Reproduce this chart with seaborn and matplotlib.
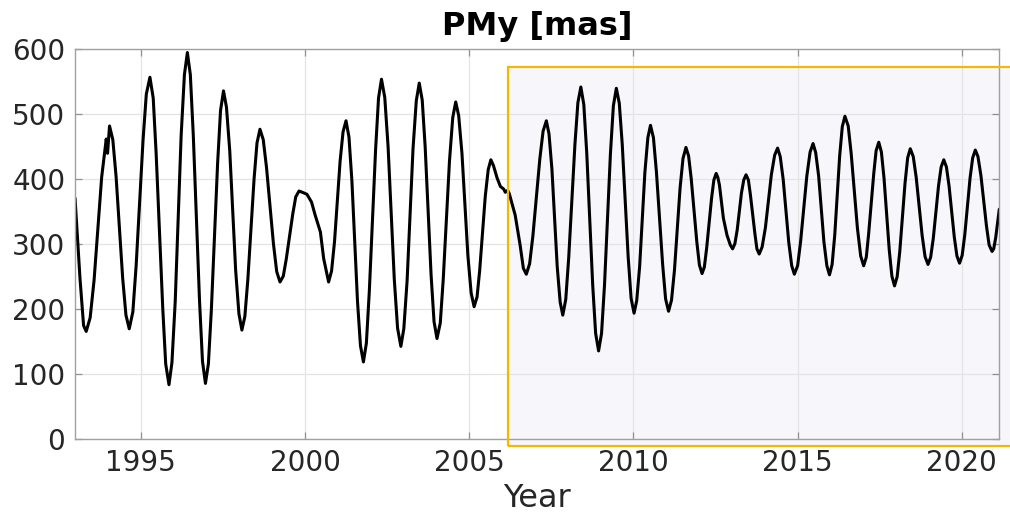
import pandas as pd
import matplotlib
matplotlib.use('Agg')
from matplotlib import pyplot as plt
from matplotlib.patches import Rectangle
import seaborn as sns

# Polar motion y component [mas]
years = [1993.00, 1993.15, 1993.26, 1993.34, 1993.46, 1993.58, 1993.81, 1993.95,
         1993.99, 1994.05, 1994.15, 1994.25, 1994.45, 1994.55, 1994.65, 1994.76,
         1994.86, 1995.07, 1995.17, 1995.28, 1995.38, 1995.47, 1995.67, 1995.76,
         1995.86, 1995.95, 1996.05, 1996.23, 1996.33, 1996.42, 1996.51, 1996.60,
         1996.79, 1996.88, 1996.97, 1997.06, 1997.15, 1997.34, 1997.43, 1997.52,
         1997.61, 1997.71, 1997.89, 1997.99, 1998.08, 1998.17, 1998.26, 1998.45,
         1998.54, 1998.63, 1998.73, 1998.83, 1999.04, 1999.14, 1999.24, 1999.34,
         1999.43, 1999.63, 1999.72, 1999.82, 1999.92, 2000.06, 2000.20, 2000.31,
         2000.47, 2000.57, 2000.72, 2000.81, 2000.90, 2001.07, 2001.16, 2001.25,
         2001.34, 2001.43, 2001.60, 2001.69, 2001.78, 2001.87, 2001.96, 2002.15,
         2002.24, 2002.33, 2002.43, 2002.53, 2002.72, 2002.82, 2002.92, 2003.01,
         2003.11, 2003.29, 2003.39, 2003.48, 2003.57, 2003.66, 2003.84, 2003.93,
         2004.02, 2004.12, 2004.21, 2004.40, 2004.50, 2004.59, 2004.68, 2004.78,
         2004.96, 2005.06, 2005.15, 2005.24, 2005.32, 2005.49, 2005.58, 2005.66,
         2005.74, 2005.85, 2005.95, 2006.05, 2006.10, 2006.17, 2006.22, 2006.40,
         2006.55, 2006.65, 2006.74, 2006.84, 2006.94, 2007.15, 2007.25, 2007.35,
         2007.43, 2007.52, 2007.68, 2007.77, 2007.85, 2007.94, 2008.03, 2008.22,
         2008.31, 2008.40, 2008.49, 2008.58, 2008.76, 2008.85, 2008.94, 2009.03,
         2009.12, 2009.30, 2009.39, 2009.48, 2009.57, 2009.66, 2009.84, 2009.93,
         2010.02, 2010.10, 2010.19, 2010.35, 2010.44, 2010.52, 2010.61, 2010.70,
         2010.89, 2010.98, 2011.07, 2011.16, 2011.25, 2011.42, 2011.51, 2011.60,
         2011.68, 2011.76, 2011.93, 2012.01, 2012.09, 2012.16, 2012.23, 2012.38,
         2012.45, 2012.52, 2012.57, 2012.62, 2012.74, 2012.85, 2012.95, 2013.02,
         2013.09, 2013.16, 2013.29, 2013.36, 2013.43, 2013.50, 2013.56, 2013.70,
         2013.76, 2013.83, 2013.92, 2014.02, 2014.20, 2014.30, 2014.39, 2014.47,
         2014.56, 2014.73, 2014.82, 2014.90, 2015.00, 2015.09, 2015.28, 2015.38,
         2015.47, 2015.55, 2015.64, 2015.80, 2015.89, 2015.97, 2016.05, 2016.13,
         2016.28, 2016.36, 2016.44, 2016.54, 2016.63, 2016.82, 2016.92, 2017.01,
         2017.09, 2017.16, 2017.32, 2017.39, 2017.47, 2017.55, 2017.63, 2017.79,
         2017.87, 2017.95, 2018.03, 2018.11, 2018.27, 2018.35, 2018.43, 2018.52,
         2018.61, 2018.79, 2018.88, 2018.97, 2019.05, 2019.13, 2019.29, 2019.37,
         2019.45, 2019.53, 2019.61, 2019.77, 2019.85, 2019.93, 2020.01, 2020.09,
         2020.25, 2020.33, 2020.41, 2020.49, 2020.58, 2020.75, 2020.83, 2020.92,
         2020.97, 2021.03, 2021.14]
pmy = [371, 248, 175, 166, 187, 245, 403, 462,
       440, 482, 461, 404, 248, 191, 170, 196,
       267, 460, 531, 557, 525, 439, 202, 116,
       84, 118, 212, 467, 561, 595, 561, 468,
       213, 120, 86, 116, 199, 424, 506, 536,
       511, 444, 260, 193, 168, 189, 245, 400,
       456, 477, 461, 418, 301, 258, 242, 251,
       277, 347, 373, 382, 380, 377, 365, 345,
       319, 278, 242, 259, 304, 428, 473, 490,
       465, 397, 212, 144, 119, 148, 228, 445,
       525, 554, 526, 451, 246, 171, 143, 170,
       244, 447, 521, 548, 522, 450, 253, 181,
       155, 179, 246, 428, 495, 519, 498, 440,
       283, 225, 204, 219, 260, 374, 415, 430,
       421, 402, 389, 385, 380, 383, 378, 345,
       299, 263, 254, 270, 313, 431, 474, 490,
       470, 415, 266, 211, 191, 215, 279, 454,
       518, 542, 515, 440, 238, 163, 136, 163,
       237, 439, 513, 540, 517, 454, 281, 217,
       194, 213, 266, 411, 464, 483, 464, 412,
       269, 216, 197, 214, 260, 386, 432, 449,
       436, 401, 304, 268, 255, 265, 294, 371,
       399, 409, 403, 391, 340, 314, 299, 293,
       301, 322, 379, 399, 407, 399, 377, 316,
       293, 285, 296, 326, 407, 437, 448, 435,
       400, 303, 267, 254, 267, 304, 405, 442,
       455, 441, 405, 304, 267, 253, 269, 314,
       436, 481, 497, 482, 440, 325, 282, 267,
       280, 315, 410, 444, 457, 442, 402, 291,
       251, 236, 250, 289, 394, 433, 447, 435,
       403, 314, 281, 269, 280, 309, 390, 419,
       430, 419, 390, 311, 282, 271, 283, 315,
       402, 433, 445, 435, 406, 328, 299, 289,
       293, 310, 354]

# highlighted period (start year, bottom, top)
box_start = 2006.17
box_bottom = -11
box_top = 572

xticks = [1995, 2000, 2005, 2010, 2015, 2020]
yticks = [0, 100, 200, 300, 400, 500, 600]

df = pd.DataFrame({'Year': years, 'PMy': pmy})

sns.set_style('whitegrid')
plt.rcParams['font.family'] = ['DejaVu Sans']

fig = plt.figure(figsize=(10.1, 5.21), dpi=100)
ax = fig.add_axes([0.0743, 0.1568, 0.9151, 0.7486])
ax.set_axisbelow(True)

# shaded box, drawn past the right edge like in the original
ax.add_patch(Rectangle((box_start, box_bottom), 2023 - box_start, box_top - box_bottom,
                       facecolor='#f6f6fb', alpha=0.8, edgecolor='none',
                       zorder=0.3, clip_on=False))
ax.add_patch(Rectangle((box_start, box_bottom), 2023 - box_start, box_top - box_bottom,
                       facecolor='none', edgecolor='#f5b800', linewidth=1.6,
                       zorder=3, clip_on=False))

sns.lineplot(x='Year', y='PMy', data=df, color='black', linewidth=2.2,
             ax=ax, zorder=2)

ax.set_xlim(1993, 2021.14)
ax.set_ylim(0, 600)
ax.set_xticks(xticks)
ax.set_yticks(yticks)
ax.grid(True, color='#e4e4e4', linewidth=0.9)
for s in ax.spines.values():
    s.set_color('#a0a0a0')
    s.set_linewidth(1.0)
ax.tick_params(direction='in', length=5, width=0.9, color='#909090',
               labelsize=20, labelcolor='#262626', top=True, right=True,
               bottom=True, left=True, pad=7)

ax.set_xlabel('Year', fontsize=23, color='#262626', labelpad=4)
ax.set_ylabel('')
ax.set_title('PMy [mas]', fontsize=23, fontweight='bold', color='black', pad=10)

fig.savefig('out.png', dpi=100)
